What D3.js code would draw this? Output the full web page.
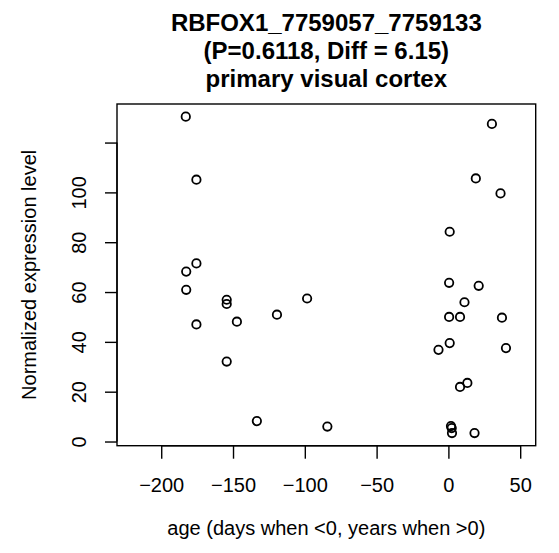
<!DOCTYPE html>
<html>
<head>
<meta charset="utf-8">
<script src="https://cdn.jsdelivr.net/npm/d3@7"></script>
<style>
  html, body { margin: 0; padding: 0; background: #fff; }
  svg { display: block; }
  text { font-family: "Liberation Sans", Arial, Helvetica, sans-serif; fill: #000; }
</style>
</head>
<body>
<script>
// ---- data ----
const titleLines = ["RBFOX1_7759057_7759133", "(P=0.6118, Diff = 6.15)", "primary visual cortex"];
const xLabel = "age (days when <0, years when >0)";
const yLabel = "Normalized expression level";
const xLim = [-220, 50];
const xTicks = [-200, -150, -100, -50, 0, 50];
const yTicks = [0, 20, 40, 60, 80, 100, 120];
const yTickLabels = ["0", "20", "40", "60", "80", "100", ""];
const ages = [
  -182.9, -175.5, -175.5, -182.6, -182.6, -175.5, -154.4, -154.4, -147.3, -119.4,
  -154.4, -133.4, -98.4, -84.3, 0.5, 21.1, 11.2, 0.5, 8.1, 37.3,
  0.9, -6.9, 40.1, 13.2, 8.1, 1.8, 2.3, 2.5, 18.2, 30.3,
  19.1, 36.3, 0.9
];
const expression = [
  130.4, 105.1, 71.5, 68.2, 60.9, 47.0, 56.9, 55.2, 48.1, 50.9,
  32.1, 8.2, 57.4, 6.0, 63.7, 62.5, 55.9, 50.0, 50.0, 49.7,
  39.5, 36.8, 37.5, 23.5, 21.9, 6.2, 5.4, 3.4, 3.4, 127.5,
  105.6, 99.6, 84.2
];

// ---- layout ----
const W = 559, H = 553;
const plot = { left: 117, right: 535.7, top: 104, bottom: 445.7 };

const svg = d3.select("body").append("svg").attr("width", W).attr("height", H);

function expand(ext) {
  const d = (ext[1] - ext[0]) * 0.04;
  return [ext[0] - d, ext[1] + d];
}

const x = d3.scaleLinear().domain(expand(xLim)).range([plot.left, plot.right]);
const y = d3.scaleLinear().domain(expand(d3.extent(expression))).range([plot.bottom, plot.top]);

// box
svg.append("rect")
  .attr("x", plot.left).attr("y", plot.top)
  .attr("width", plot.right - plot.left).attr("height", plot.bottom - plot.top)
  .attr("fill", "none").attr("stroke", "#000").attr("stroke-width", 1.4);

// x axis
const xAxis = d3.axisBottom(x).tickValues(xTicks).tickSize(13).tickPadding(0)
  .tickFormat(d => d < 0 ? "\u2212" + Math.abs(d) : String(d));
const gx = svg.append("g").attr("transform", `translate(0,${plot.bottom})`).call(xAxis);
gx.select(".domain").attr("d", `M${x(xTicks[0])},0H${x(xTicks[xTicks.length-1])}`).attr("stroke-width", 1.4);
gx.selectAll(".tick line").attr("stroke-width", 1.4);
gx.selectAll(".tick text").attr("y", 0).attr("dy", 0)
  .attr("transform", "translate(0,46.6)")
  .style("font-size", "20px").attr("fill", "#000");

// y axis
const yAxis = d3.axisLeft(y).tickValues(yTicks).tickSize(12).tickPadding(0)
  .tickFormat((d, i) => yTickLabels[i]);
const gy = svg.append("g").attr("transform", `translate(${plot.left},0)`).call(yAxis);
gy.select(".domain").attr("d", `M0,${y(yTicks[0])}V${y(yTicks[yTicks.length-1])}`).attr("stroke-width", 1.4);
gy.selectAll(".tick line").attr("stroke-width", 1.4);
gy.selectAll(".tick text")
  .attr("x", 0).attr("dy", 0)
  .attr("transform", "translate(-31,0) rotate(-90)")
  .attr("text-anchor", "middle")
  .style("font-size", "20px").attr("fill", "#000");

// points
svg.append("g").selectAll("circle")
  .data(ages.map((a, i) => [a, expression[i]]))
  .join("circle")
  .attr("cx", d => x(d[0]))
  .attr("cy", d => y(d[1]))
  .attr("r", 4.2)
  .attr("fill", "none")
  .attr("stroke", "#000")
  .attr("stroke-width", 1.8);

// title
const cx = (plot.left + plot.right) / 2;
svg.append("g").selectAll("text")
  .data(titleLines)
  .join("text")
  .attr("x", cx)
  .attr("y", (d, i) => 31 + i * 28)
  .attr("text-anchor", "middle")
  .style("font-size", "24px")
  .style("font-weight", "bold")
  .text(d => d);

// axis titles
svg.append("text")
  .attr("x", cx).attr("y", 535)
  .attr("text-anchor", "middle")
  .style("font-size", "20px")
  .text(xLabel);

svg.append("text")
  .attr("transform", `translate(36,${(plot.top + plot.bottom) / 2}) rotate(-90)`)
  .attr("text-anchor", "middle")
  .style("font-size", "20px")
  .text(yLabel);
</script>
</body>
</html>
